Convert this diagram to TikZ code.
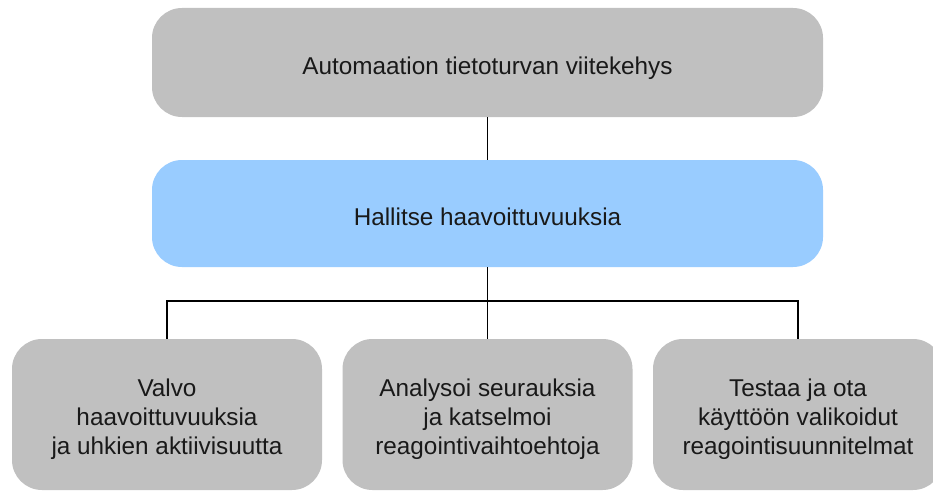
\documentclass[tikz,border=0pt]{standalone}
\usepackage{fontspec}
\setmainfont{Liberation Sans}
\definecolor{boxgrey}{HTML}{C0C0C0}
\definecolor{boxblue}{HTML}{99CCFF}
\begin{document}
\begin{tikzpicture}[x=1pt,y=-1pt,
  panel/.style={rectangle, rounded corners=30pt, inner sep=0pt, draw=none},
  greypanel/.style={panel, fill=boxgrey},
  bluepanel/.style={panel, fill=boxblue},
  caption/.style={inner sep=0pt, font=\fontsize{24.3}{29}\selectfont,
    align=center, text=black!90},
  link/.style={draw=black, line width=1.6pt}]
  \clip (0,0) rectangle (933,492);
  \fill[white] (0,0) rectangle (933,492);

  % framework and its main task
  \node[greypanel, minimum width=671pt, minimum height=109pt] (frame) at (487.5,62.5) {};
  \node[bluepanel, minimum width=671pt, minimum height=107pt] (manage) at (487.5,213.5) {};

  % sub-tasks
  \node[greypanel, minimum width=310pt, minimum height=151pt] (monitor) at (167,414.5) {};
  \node[greypanel, minimum width=290pt, minimum height=151pt] (analyse) at (487.5,414.5) {};
  \node[greypanel, minimum width=290pt, minimum height=151pt] (test) at (798,414.5) {};

  % panel texts (yshift is in page units: negative moves down)
  \node[caption] (frametext) at ([yshift=-6pt]frame.center)
    {Automaation tietoturvan viitekehys};
  \node[caption] (managetext) at ([yshift=-3pt]manage.center)
    {Hallitse haavoittuvuuksia};
  \node[caption] (monitortext) at ([yshift=-5pt]monitor.center)
    {Valvo\\haavoittuvuuksia\\ja uhkien aktiivisuutta};
  \node[caption] (analysetext) at ([yshift=-5pt]analyse.center)
    {Analysoi seurauksia\\ja katselmoi\\reagointivaihtoehtoja};
  \node[caption] (testtext) at ([yshift=-5pt]test.center)
    {Testaa ja ota\\käyttöön valikoidut\\reagointisuunnitelmat};

  % connectors
  \draw[link] (frame.south) -- (manage.north);
  \coordinate (bus) at (487.5,301);
  \draw[link] (manage.south) -- (bus);
  \draw[link] (monitor.north) |- (bus) -| (test.north);
  \draw[link] (bus) -- (analyse.north);
\end{tikzpicture}
\end{document}
